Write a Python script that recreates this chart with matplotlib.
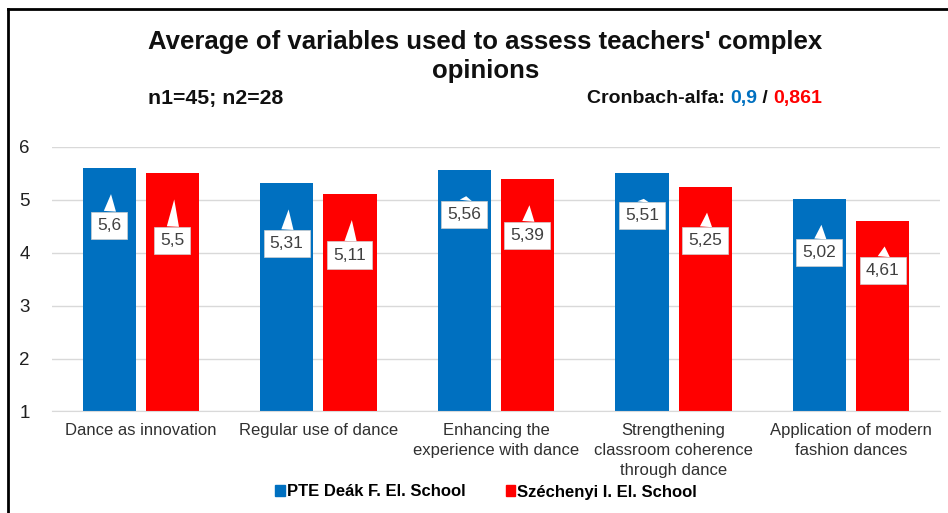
import matplotlib
matplotlib.use('Agg')
import matplotlib.pyplot as plt
from matplotlib.lines import Line2D
from matplotlib.patches import Patch
import numpy as np

plt.rcParams['font.family'] = ['Liberation Sans', 'DejaVu Sans']

# data
categories = ['Dance as innovation', 'Regular use of dance',
              'Enhancing the\nexperience with dance',
              'Strengthening\nclassroom coherence\nthrough dance',
              'Application of modern\nfashion dances']
pte_vals = [5.6, 5.31, 5.56, 5.51, 5.02]
szech_vals = [5.5, 5.11, 5.39, 5.25, 4.61]
series_names = ['PTE Deák F. El. School', 'Széchenyi I. El. School']
n_text = 'n1=45; n2=28'
alpha_vals = ['0,9', '0,861']

blue = '#0070C0'
red = '#FF0000'

# label box offsets below the pointer tip (pixels), per bar
pte_box_off = [31, 34, 18, 17, 28]
szech_box_off = [41, 35, 30, 28, 24]

fig = plt.figure(figsize=(9.48, 5.13), dpi=100)
ax = fig.add_axes([0.0549, 0.1979, 0.9367, 0.5156])

x = np.arange(len(categories))
w = 0.30
shift = 0.178
b1 = ax.bar(x - shift, pte_vals, w, bottom=0, color=blue, zorder=2)
b2 = ax.bar(x + shift, szech_vals, w, bottom=0, color=red, zorder=2)

ax.set_ylim(1, 6)
ax.set_xlim(-0.5, len(categories) - 0.5)
ax.set_yticks([1, 2, 3, 4, 5, 6])
ax.yaxis.grid(True, color='#d9d9d9', lw=1, zorder=0)
ax.set_axisbelow(True)
for s in ['top', 'right', 'left']:
    ax.spines[s].set_visible(False)
ax.spines['bottom'].set_color('#d9d9d9')
ax.tick_params(axis='y', length=0, pad=16, labelsize=13.5, labelcolor='#202020')
ax.tick_params(axis='x', length=0, pad=8, labelsize=12, labelcolor='#303030')
ax.set_xticks(x)
ax.set_xticklabels(categories, linespacing=1.45, va='top')

px_per_unit = 53.0
def add_labels(xs, vals, offs):
    for xi, v, off in zip(xs, vals, offs):
        tip = v - 26 / px_per_unit
        ax.annotate(str(v).replace('.', ','), xy=(xi + 0.01, tip),
                    xytext=(-2, -off), textcoords='offset pixels',
                    ha='center', va='center', fontsize=12.5, color='#404040',
                    bbox=dict(boxstyle='square,pad=0.35', fc='white', ec='#d0d0d0', lw=0.5),
                    arrowprops=dict(arrowstyle='wedge,tail_width=0.7', fc='white',
                                    ec='none', shrinkA=0, shrinkB=0),
                    zorder=5)

add_labels(x - shift, pte_vals, pte_box_off)
add_labels(x + shift, szech_vals, szech_box_off)

# titles
fig.text(0.512, 1 - 42 / 513, "Average of variables used to assess teachers' complex",
         ha='center', va='center', fontsize=18.5, fontweight='bold', color='#101010')
fig.text(0.512, 1 - 71 / 513, 'opinions',
         ha='center', va='center', fontsize=18.5, fontweight='bold', color='#101010')
fig.text(148 / 948, 1 - 99 / 513, n_text, ha='left', va='center',
         fontsize=15.3, fontweight='bold', color='#101010')

# Cronbach-alfa line, built right to left
fig.canvas.draw()
r = fig.canvas.get_renderer()
parts = [('Cronbach-alfa: ', '#101010'), (alpha_vals[0], blue),
         (' / ', '#101010'), (alpha_vals[1], red)]
xr = 822
for txt, col in reversed(parts):
    t = fig.text(xr / 948, 1 - 99 / 513, txt, ha='right', va='center',
                 fontsize=14, fontweight='bold', color=col)
    bb = t.get_window_extent(renderer=r)
    xr -= bb.width

# legend
handles = [Patch(color=blue), Patch(color=red)]
fig.legend(handles, series_names, loc='center', bbox_to_anchor=(0.513, 1 - 492 / 513),
           ncol=2, frameon=False, handlelength=0.55, handleheight=0.6,
           handletextpad=0.15, columnspacing=2.4,
           prop=dict(size=12, weight='bold'))

# frame lines at top and left
fig.add_artist(Line2D([8 / 948, 1], [1 - 9 / 513, 1 - 9 / 513], color='black', lw=2))
fig.add_artist(Line2D([8 / 948, 8 / 948], [0, 1 - 9 / 513], color='black', lw=2))

fig.savefig('out.png', dpi=100)
